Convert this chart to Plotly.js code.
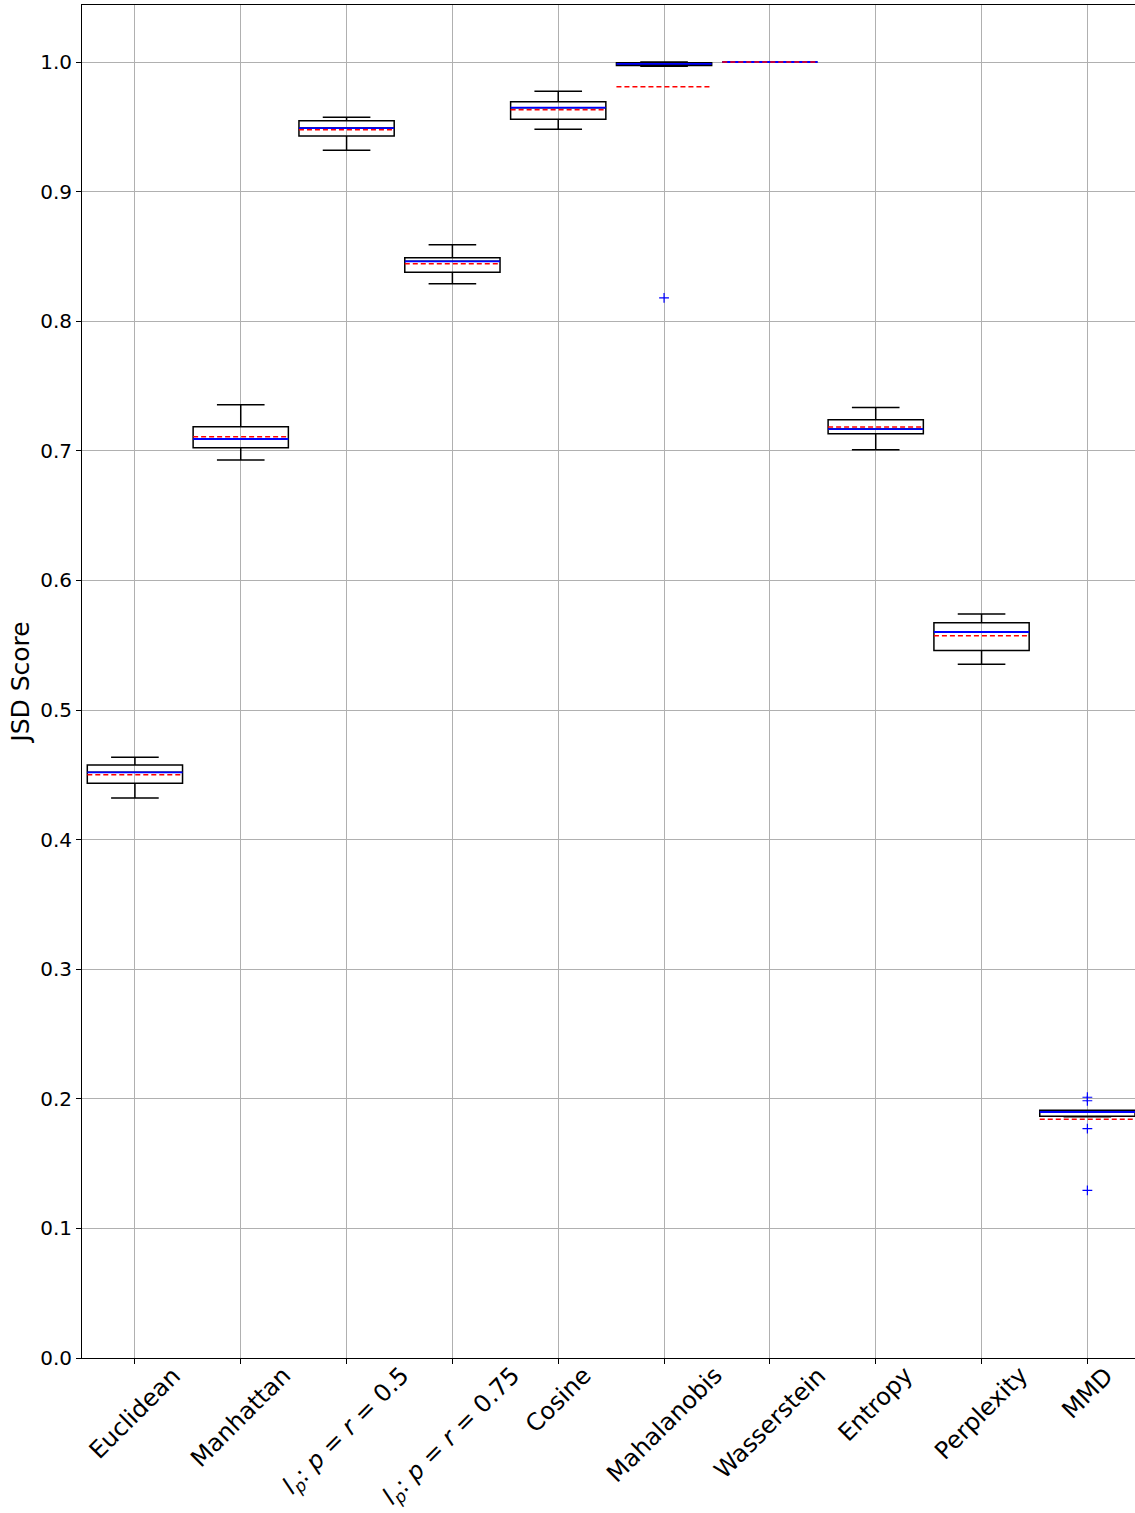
<!DOCTYPE html>
<html>
<head>
<meta charset="utf-8">
<script src="https://cdn.plot.ly/plotly-3.0.1.min.js"></script>
<style>html,body{margin:0;padding:0;background:#fff;}#chart{width:1135px;height:1513px;}</style>
</head>
<body>
<div id="chart"></div>
<script>
const categories = ["Euclidean", "Manhattan", "<i>l</i><sub><i>p</i></sub>: <i>p</i> = <i>r</i> = 0.5", "<i>l</i><sub><i>p</i></sub>: <i>p</i> = <i>r</i> = 0.75", "Cosine", "Mahalanobis", "Wasserstein", "Entropy", "Perplexity", "MMD"];
const lowerWhisker = [0.4321, 0.6929, 0.9319, 0.8290, 0.9481, 0.9968, 1.0, 0.7008, 0.5353, 0.1862];
const q1 =           [0.4434, 0.7024, 0.9429, 0.8377, 0.9558, 0.9974, 1.0, 0.7132, 0.5460, 0.1865];
const medians =      [0.4519, 0.7091, 0.9490, 0.8462, 0.9648, 0.9985, 1.0, 0.7168, 0.5602, 0.1898];
const q3 =           [0.4576, 0.7186, 0.9547, 0.8490, 0.9694, 0.9994, 1.0, 0.7240, 0.5674, 0.1911];
const upperWhisker = [0.4635, 0.7356, 0.9573, 0.8590, 0.9774, 1.0, 1.0, 0.7335, 0.5740, 0.1912];
const means =        [0.4500, 0.7109, 0.9478, 0.8444, 0.9632, 0.9809, 1.0, 0.7184, 0.5573, 0.1842];
const outlierCategory = [5, 9, 9, 9, 9];
const outlierValues = [0.818, 0.2012, 0.1985, 0.1770, 0.1294];
const yTickValues = [0.0, 0.1, 0.2, 0.3, 0.4, 0.5, 0.6, 0.7, 0.8, 0.9, 1.0];

const positions = categories.map((_, i) => i);
const halfW = 0.45;

function segments(vals) {
  const xs = [], ys = [];
  vals.forEach((v, i) => { xs.push(i - halfW, i + halfW, null); ys.push(v, v, null); });
  return {x: xs, y: ys};
}

const boxTrace = {
  type: 'box', x: positions, q1: q1, median: medians, q3: q3,
  lowerfence: lowerWhisker, upperfence: upperWhisker,
  width: 2 * halfW, whiskerwidth: 0.5,
  line: {color: '#000000', width: 1.5}, fillcolor: 'rgba(0,0,0,0)',
  boxpoints: false, hoverinfo: 'skip', showlegend: false
};
const med = segments(medians);
const medTrace = {type: 'scatter', mode: 'lines', x: med.x, y: med.y, line: {color: '#0000ff', width: 1.8}, showlegend: false, hoverinfo: 'skip'};
const mn = segments(means);
const meanTrace = {type: 'scatter', mode: 'lines', x: mn.x, y: mn.y, line: {color: '#ff0000', width: 1.5, dash: '5px,3px'}, showlegend: false, hoverinfo: 'skip'};
const outTrace = {type: 'scatter', mode: 'markers', x: outlierCategory, y: outlierValues,
  marker: {symbol: 'cross-thin-open', size: 7, line: {color: '#0000ff', width: 1.2}, color: '#0000ff'}, showlegend: false, hoverinfo: 'skip'};

const annotations = categories.map((c, i) => ({
  x: i, xref: 'x', y: 0, yref: 'paper', yshift: -2,
  xanchor: 'center', yanchor: 'top', text: c, textangle: -45, showarrow: false, borderpad: 0,
  font: {family: 'DejaVu Sans', size: 24, color: '#000'}
}));

const layout = {
  width: 1135, height: 1513,
  margin: {l: 82, r: 0, t: 5, b: 155},
  paper_bgcolor: '#ffffff', plot_bgcolor: '#ffffff',
  font: {family: 'DejaVu Sans', color: '#000'},
  xaxis: {
    range: [-0.5, 9.45], tickvals: positions, ticktext: categories.map(() => ''),
    showgrid: true, gridcolor: '#b0b0b0', gridwidth: 1,
    showline: true, linecolor: '#000', linewidth: 1, mirror: true,
    ticks: 'outside', ticklen: 5, tickcolor: '#000', zeroline: false
  },
  yaxis: {
    range: [0, 1.044], tickvals: yTickValues, tickformat: '.1f',
    showgrid: true, gridcolor: '#b0b0b0', gridwidth: 1,
    showline: true, linecolor: '#000', linewidth: 1, mirror: true,
    ticks: 'outside', ticklen: 5, tickcolor: '#000', zeroline: false,
    tickfont: {family: 'DejaVu Sans', size: 20, color: '#000'},
    title: {text: 'JSD Score', font: {family: 'DejaVu Sans', size: 25, color: '#000'}, standoff: 3}
  },
  annotations: annotations,
  showlegend: false
};

Plotly.newPlot('chart', [boxTrace, medTrace, meanTrace, outTrace], layout, {staticPlot: true});
</script>
</body>
</html>
